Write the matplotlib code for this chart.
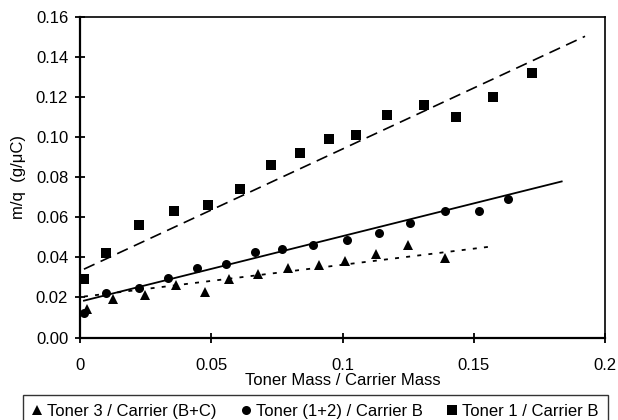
import matplotlib
matplotlib.use("Agg")
import matplotlib.pyplot as plt
import numpy as np
from matplotlib.lines import Line2D

plt.rcParams['font.family'] = ['Liberation Sans', 'DejaVu Sans']

# ---- data ----
toner1_x = [0.0015, 0.0098, 0.0226, 0.0358, 0.0489, 0.0608, 0.0726, 0.0838,
            0.0950, 0.1050, 0.1170, 0.1312, 0.1431, 0.1572, 0.1721]
toner1_y = [0.029, 0.042, 0.056, 0.063, 0.066, 0.074, 0.086, 0.092,
            0.099, 0.101, 0.111, 0.116, 0.110, 0.120, 0.132]

toner12_x = [0.0016, 0.0098, 0.0226, 0.0337, 0.0447, 0.0556, 0.0668, 0.0768,
             0.0889, 0.1018, 0.1138, 0.1258, 0.1390, 0.1520, 0.1632]
toner12_y = [0.0121, 0.0221, 0.0249, 0.0296, 0.0346, 0.0367, 0.0429, 0.0441,
             0.0461, 0.0489, 0.0524, 0.0571, 0.0633, 0.0633, 0.0691]

toner3_x = [0.0028, 0.0127, 0.0249, 0.0367, 0.0478, 0.0569, 0.0679, 0.0791,
            0.0910, 0.1011, 0.1129, 0.1251, 0.1392]
toner3_y = [0.0140, 0.0193, 0.0211, 0.0260, 0.0226, 0.0293, 0.0316, 0.0348,
            0.0361, 0.0383, 0.0418, 0.0461, 0.0398]

# linear trend lines: slope, intercept, x range
trend1 = (0.609, 0.0332, 0.0015, 0.1924)
trend12 = (0.327, 0.0179, 0.0015, 0.1835)
trend3 = (0.161, 0.0202, 0.0015, 0.1580)

x_ticks = [0, 0.05, 0.1, 0.15, 0.2]
x_ticklabels = ["0", "0.05", "0.1", "0.15", "0.2"]
y_ticks = [0.00, 0.02, 0.04, 0.06, 0.08, 0.10, 0.12, 0.14, 0.16]
y_ticklabels = ["0.00", "0.02", "0.04", "0.06", "0.08", "0.10", "0.12", "0.14", "0.16"]

labels = ["Toner 3 / Carrier (B+C)", "Toner (1+2) / Carrier B", "Toner 1 / Carrier B"]

# ---- figure ----
fig = plt.figure(figsize=(6.18, 4.2), dpi=100)
W, H = 618, 420
L, R, T, B = 80, 605, 17, 337.5
ax = fig.add_axes([L / W, 1 - B / H, (R - L) / W, (B - T) / H])

def trend(ax, p, **kw):
    m, c, x0, x1 = p
    xs = np.array([x0, x1])
    ax.plot(xs, m * xs + c, color='black', **kw)

trend(ax, trend1, lw=1.2, linestyle=(0, (7, 4)))
trend(ax, trend12, lw=1.3, linestyle='-')
trend(ax, trend3, lw=1.3, linestyle=(0, (2.2, 4)))

ax.plot(toner1_x, toner1_y, 's', color='black', ms=7.2, mew=0, clip_on=False)
ax.plot(toner12_x, toner12_y, 'o', color='black', ms=6.5, mew=0, clip_on=False)
ax.plot(toner3_x, toner3_y, '^', color='black', ms=7, mew=0, clip_on=False)

ax.set_xlim(0, 0.2)
ax.set_ylim(0, 0.16)
ax.set_xticks(x_ticks)
ax.set_xticklabels(x_ticklabels)
ax.set_yticks(y_ticks)
ax.set_yticklabels(y_ticklabels)

for s in ['left', 'bottom']:
    ax.spines[s].set_linewidth(1.6)
for s in ['top', 'right']:
    ax.spines[s].set_linewidth(1.2)

ax.tick_params(axis='both', direction='inout', length=7, width=1.3,
               labelsize=12, colors='black')
ax.tick_params(axis='y', pad=5)
ax.tick_params(axis='x', pad=11)

ax.set_xlabel("Toner Mass / Carrier Mass", fontsize=12, labelpad=0)
ax.set_ylabel("m/q  (g/\u03bcC)", fontsize=12, labelpad=7)

handles = [
    Line2D([], [], marker='^', color='black', linestyle='none', ms=7, mew=0),
    Line2D([], [], marker='o', color='black', linestyle='none', ms=6.5, mew=0),
    Line2D([], [], marker='s', color='black', linestyle='none', ms=7, mew=0),
]
leg = fig.legend(handles, labels, ncol=3, loc='upper left',
                 bbox_to_anchor=(23 / W, 1 - 421 / H, (608 - 23) / W, 26 / H),
                 mode='expand', fontsize=12, frameon=True, fancybox=False,
                 shadow=False, handlelength=0.6, handletextpad=0.3,
                 borderaxespad=0, borderpad=0.55, columnspacing=1.0)
leg.get_frame().set_edgecolor('black')
leg.get_frame().set_linewidth(1.0)

fig.savefig("out.png", dpi=100)
